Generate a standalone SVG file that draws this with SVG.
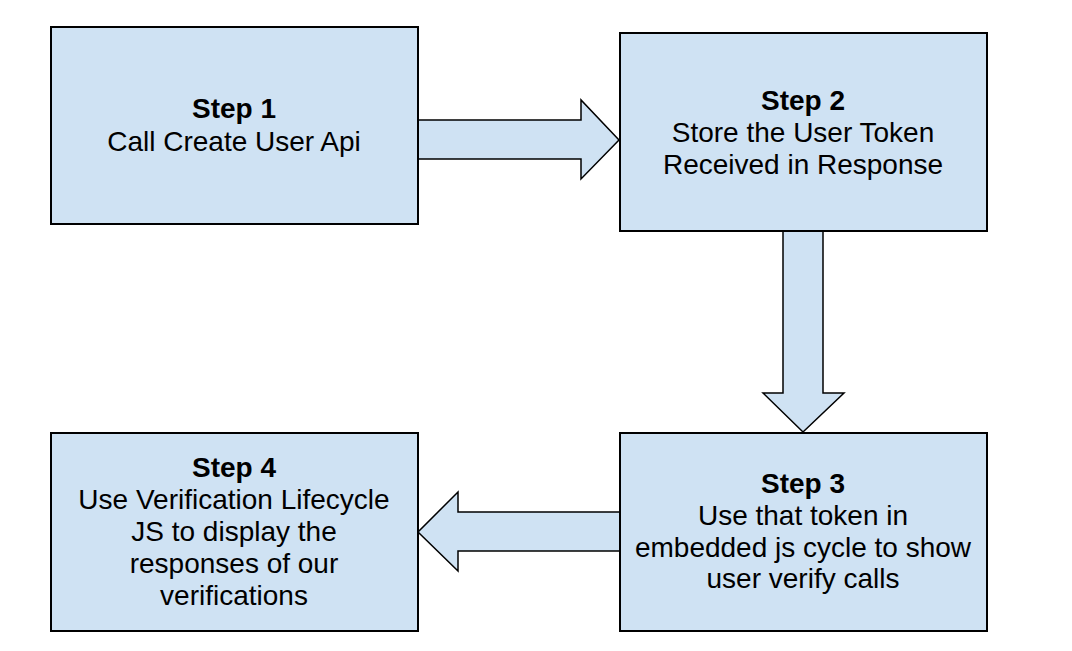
<svg xmlns="http://www.w3.org/2000/svg" width="1072" height="651" viewBox="0 0 1072 651">
<style>
.box{fill:#cfe2f3;stroke:#000;stroke-width:2}
.arr{fill:#cfe2f3;stroke:#000;stroke-width:1.5;stroke-linejoin:miter}
text{font-family:"Liberation Sans",Arial,sans-serif;font-size:28px;fill:#000;text-anchor:middle}
.b{font-weight:bold}
</style>
<rect width="1072" height="651" fill="#fff"/>
<g id="connectors">
<polygon class="arr" points="418,120 581,120 581,100 619,140 581,179 581,159 418,159"/>
<polygon class="arr" points="783,231 823,231 823,393 844,393 803,432 763,393 783,393"/>
<polygon class="arr" points="620,512 458,512 458,492 418,532 458,571 458,551 620,551"/>
</g>
<g id="step1">
<rect class="box" x="51" y="27" width="367" height="197"/>
<text x="234" y="118" class="b">Step 1</text>
<text x="234" y="151">Call Create User Api</text>
</g>
<g id="step2">
<rect class="box" x="620" y="33" width="367" height="198"/>
<text x="803" y="110" class="b">Step 2</text>
<text x="803" y="142">Store the User Token</text>
<text x="803" y="174">Received in Response</text>
</g>
<g id="step3">
<rect class="box" x="620" y="433" width="367" height="198"/>
<text x="803" y="493" class="b">Step 3</text>
<text x="803" y="525">Use that token in</text>
<text x="803" y="557">embedded js cycle to show</text>
<text x="803" y="588">user verify calls</text>
</g>
<g id="step4">
<rect class="box" x="51" y="433" width="367" height="198"/>
<text x="234" y="477" class="b">Step 4</text>
<text x="234" y="509">Use Verification Lifecycle</text>
<text x="234" y="541">JS to display the</text>
<text x="234" y="573">responses of our</text>
<text x="234" y="605">verifications</text>
</g>
</svg>
